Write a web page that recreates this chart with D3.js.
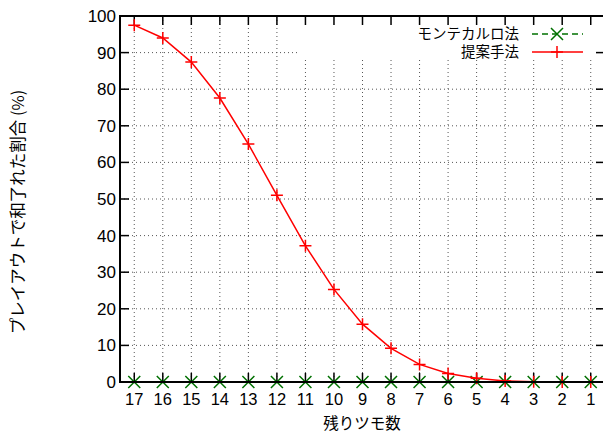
<!DOCTYPE html>
<meta charset="utf-8">
<style>
  body { margin: 0; background: #fff; }
  text { font-family: 'Liberation Sans', Arial, sans-serif; }
  .jp { font-family: 'Noto Sans CJK JP', sans-serif; }
  .grid line { stroke: #555; stroke-width: 1; stroke-dasharray: 1,3; }
</style>
<body>
<script src="https://d3js.org/d3.v7.min.js"></script>
<script>
// remaining draws (x axis, reversed)
var tsumo = [17, 16, 15, 14, 13, 12, 11, 10, 9, 8, 7, 6, 5, 4, 3, 2, 1];
// win rate in playouts (%)
var monteCarlo = [0, 0, 0, 0, 0, 0, 0, 0, 0, 0, 0, 0, 0, 0, 0, 0, 0];
var proposed = [97.5, 94, 87.4, 77.6, 65, 51, 37.2, 25.3, 15.8, 9.2, 4.8, 2.3, 1.0, 0.3, 0.05, 0, 0];
var yTicks = [0, 10, 20, 30, 40, 50, 60, 70, 80, 90, 100];
var seriesNames = ["モンテカルロ法", "提案手法"];

var W = 603, H = 434;
var pL = 120, pR = 605, pT = 16, pB = 382;

var x = d3.scaleLinear().domain([17.5, 0.5]).range([pL, pR]);
var y = d3.scaleLinear().domain([0, 100]).range([pB, pT]);

var svg = d3.select("body").append("svg")
  .attr("width", W).attr("height", H);

// grid
var grid = svg.append("g").attr("class", "grid");
grid.selectAll(".gx").data(tsumo).join("line")
  .attr("x1", d => x(d)).attr("x2", d => x(d))
  .attr("y1", pT).attr("y2", pB);
grid.selectAll(".gy").data(yTicks.slice(1, -1)).join("line")
  .attr("x1", pL).attr("x2", pR)
  .attr("y1", d => y(d)).attr("y2", d => y(d));

// opaque key box
svg.append("rect").attr("x", 298).attr("y", pT).attr("width", pR - 298).attr("height", 44)
  .attr("fill", "#fff");

// ticks (mirrored on all sides)
var tk = 9;
var ticks = svg.append("g").attr("stroke", "#000").attr("stroke-width", 1.5);
ticks.selectAll(".tb").data(tsumo).join("line")
  .attr("x1", d => x(d)).attr("x2", d => x(d)).attr("y1", pB).attr("y2", pB - tk);
ticks.selectAll(".tt").data(tsumo).join("line")
  .attr("x1", d => x(d)).attr("x2", d => x(d)).attr("y1", pT).attr("y2", pT + tk);
ticks.selectAll(".tl").data(yTicks).join("line")
  .attr("x1", pL).attr("x2", pL + tk).attr("y1", d => y(d)).attr("y2", d => y(d));
ticks.selectAll(".tr").data(yTicks).join("line")
  .attr("x1", pR).attr("x2", pR - tk).attr("y1", d => y(d)).attr("y2", d => y(d));

// tick labels
svg.append("g").selectAll("text").data(tsumo).join("text")
  .attr("x", d => x(d)).attr("y", 405)
  .attr("text-anchor", "middle").attr("font-size", 16.5)
  .text(d => d);
svg.append("g").selectAll("text").data(yTicks).join("text")
  .attr("x", 116).attr("y", d => y(d) + 6)
  .attr("text-anchor", "end").attr("font-size", 17)
  .text(d => d);

// axis titles
svg.append("text").attr("class", "jp")
  .attr("x", 362).attr("y", 429).attr("text-anchor", "middle")
  .attr("font-size", 15.5).text("残りツモ数");
svg.append("text").attr("class", "jp")
  .attr("transform", "translate(24,212) rotate(-90)")
  .attr("text-anchor", "middle").attr("font-size", 16.5)
  .text("プレイアウトで和了れた割合 (%)");

// markers
function plus(g, cx, cy, c) {
  g.append("path").attr("d", "M" + (cx - 6) + "," + cy + "h12M" + cx + "," + (cy - 6) + "v12")
    .attr("stroke", c).attr("stroke-width", 1.5).attr("fill", "none");
}
function cross(g, cx, cy, c) {
  g.append("path").attr("d", "M" + (cx - 6) + "," + (cy - 6) + "l12,12M" + (cx - 6) + "," + (cy + 6) + "l12,-12")
    .attr("stroke", c).attr("stroke-width", 1.5).attr("fill", "none");
}

var green = "#007000", red = "#ff0000";
var line = d3.line().x(d => x(d[0])).y(d => y(d[1]));

var mcData = tsumo.map((t, i) => [t, monteCarlo[i]]);
var prData = tsumo.map((t, i) => [t, proposed[i]]);

var plot = svg.append("g");
plot.append("path").datum(mcData).attr("d", line)
  .attr("fill", "none").attr("stroke", green).attr("stroke-width", 1.5).attr("stroke-dasharray", "6,4");
mcData.forEach(d => cross(plot, x(d[0]), y(d[1]), green));
plot.append("path").datum(prData).attr("d", line)
  .attr("fill", "none").attr("stroke", red).attr("stroke-width", 1.5);
prData.forEach(d => plus(plot, x(d[0]), y(d[1]), red));

// border
svg.append("rect").attr("x", pL).attr("y", pT).attr("width", pR - pL).attr("height", pB - pT)
  .attr("fill", "none").attr("stroke", "#000").attr("stroke-width", 2);

// key
var key = svg.append("g");
var keyY = [34, 52], colors = [green, red];
seriesNames.forEach(function (n, i) {
  key.append("text").attr("class", "jp").attr("x", 519).attr("y", keyY[i] + 5)
    .attr("text-anchor", "end").attr("font-size", 14.5).text(n);
  key.append("line").attr("x1", 532).attr("x2", 583).attr("y1", keyY[i]).attr("y2", keyY[i])
    .attr("stroke", colors[i]).attr("stroke-width", 1.5)
    .attr("stroke-dasharray", i === 0 ? "6,4" : null);
  if (i === 0) cross(key, 557, keyY[i], green); else plus(key, 557, keyY[i], red);
});
</script>
</body>
